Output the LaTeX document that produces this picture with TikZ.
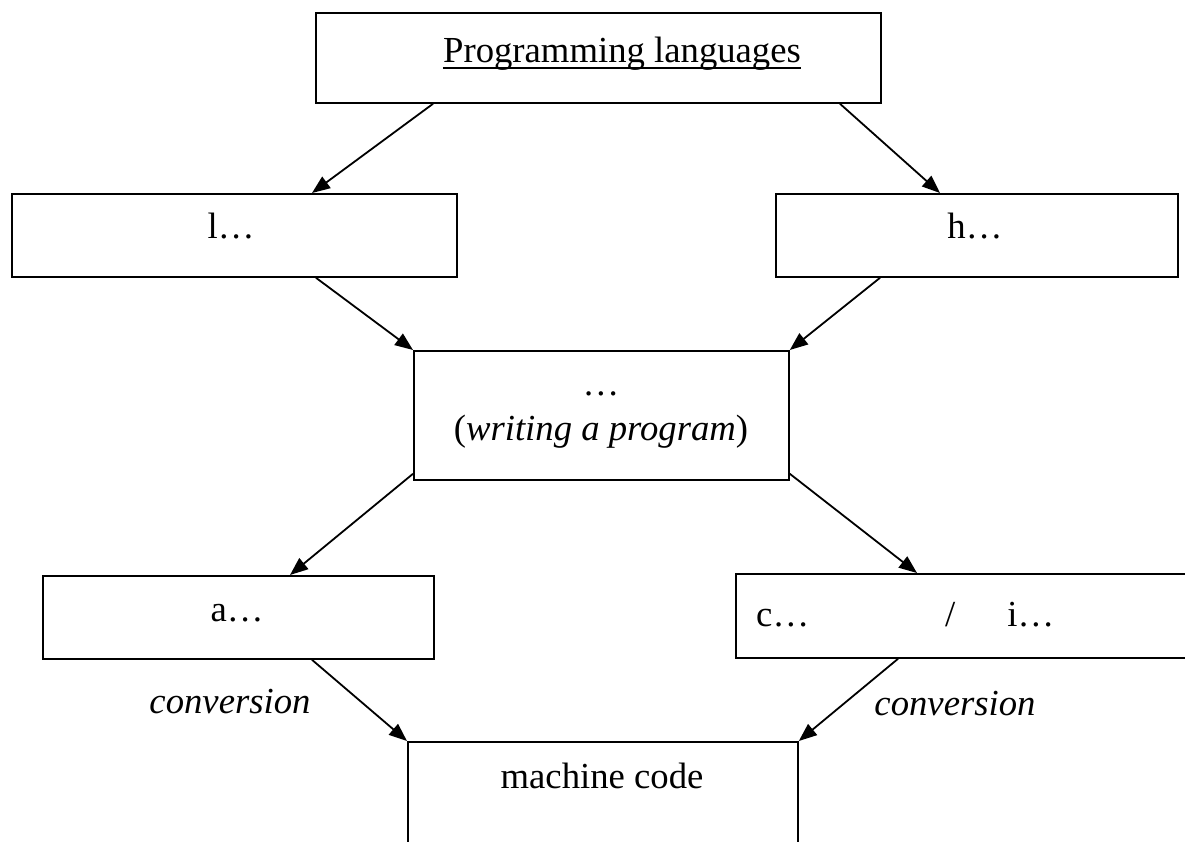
\documentclass[tikz,border=0pt]{standalone}
\usepackage{fontspec}
\setmainfont{Liberation Serif}
\usetikzlibrary{arrows.meta,calc}
\tikzset{
  box/.style={draw, line width=1.8pt, inner sep=0pt, anchor=north west},
  txt/.style={inner sep=0pt, anchor=base, font=\fontsize{36.7}{44}\selectfont},
  arr/.style={line width=1.8pt, -{Triangle[length=18pt,width=14pt]}}
}
\begin{document}
\begin{tikzpicture}[x=1pt,y=-1pt]
\useasboundingbox (0,0) rectangle (1185,842);
\clip (0,0) rectangle (1185,842);
\fill[white] (0,0) rectangle (1185,842);
% boxes
\node[box, minimum width=565pt, minimum height=90pt] (top) at (315,12) {};
\node[box, minimum width=445pt, minimum height=83pt] (lbox) at (11,193) {};
\node[box, minimum width=402pt, minimum height=83pt] (hbox) at (775,193) {};
\node[box, minimum width=375pt, minimum height=129pt] (mid) at (413,350) {};
\node[box, minimum width=391pt, minimum height=83pt] (abox) at (42,575) {};
\node[box, minimum width=470pt, minimum height=84pt] (cbox) at (735,573) {};
\node[box, minimum width=390pt, minimum height=140pt] (mac) at (407,741) {};
% texts
\node[txt] (pl) at (622,63) {Programming languages};
\draw[line width=1.8pt] ($(pl.base west)+(0,5)$) -- ($(pl.base east)+(0,5)$);
\node[txt] (lt) at (231,239) {l…};
\node[txt] (ht) at (975,239) {h…};
\node[txt] (dots) at (601,395) {…};
\node[txt] (wp) at (601,440) {(\textit{writing a program})};
\node[txt] (at) at (237,621) {a…};
\node[txt, anchor=base west] (ct) at (756,626) {c…\hspace{136pt}/\hspace{52pt}i…};
\node[txt] (mc) at (602,788) {machine code};
\node[txt] (conv1) at (230,713) {\textit{conversion}};
\node[txt] (conv2) at (955,715) {\textit{conversion}};
% connectors
\draw[arr] ($(top.south west)+(118,0)$) -- ($(lbox.north west)+(301,0)$);
\draw[arr] ($(top.south west)+(525,0)$) -- ($(hbox.north west)+(165,0)$);
\draw[arr] ($(lbox.south west)+(305,0)$) -- (mid.north west);
\draw[arr] ($(hbox.south west)+(105,0)$) -- (mid.north east);
\draw[arr] ($(mid.south west)+(0,-7)$) -- ($(abox.north west)+(248,0)$);
\draw[arr] ($(mid.south east)+(0,-7)$) -- ($(cbox.north west)+(182,0)$);
\draw[arr] ($(abox.south west)+(270,0)$) -- (mac.north west);
\draw[arr] ($(cbox.south west)+(163,0)$) -- (mac.north east);
\end{tikzpicture}
\end{document}
